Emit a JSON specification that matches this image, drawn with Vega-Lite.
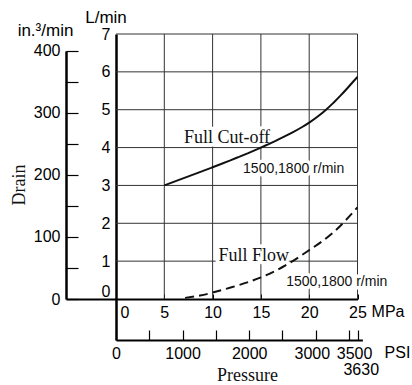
{
  "$schema": "https://vega.github.io/schema/vega-lite/v6.json",
  "width": 291.5,
  "height": 306,
  "autosize": {"type": "none"},
  "padding": {"left": 66, "top": 34, "right": 54.5, "bottom": 45},
  "background": "white",
  "config": {
    "view": {"stroke": null},
    "axis": {
      "labelFont": "Liberation Sans",
      "titleFont": "Liberation Sans",
      "labelColor": "black",
      "titleColor": "black",
      "tickColor": "black",
      "domainColor": "black",
      "labelFontSize": 16,
      "titleFontSize": 16,
      "titleFontWeight": "normal",
      "grid": false,
      "labelFlush": false,
      "labelOverlap": false
    }
  },
  "datasets": {
    "curves": [
      {"series": "Full Cut-off", "MPa": 5, "L": 3.0},
      {"series": "Full Cut-off", "MPa": 7.5, "L": 3.24},
      {"series": "Full Cut-off", "MPa": 10, "L": 3.48},
      {"series": "Full Cut-off", "MPa": 12.5, "L": 3.73},
      {"series": "Full Cut-off", "MPa": 15, "L": 4.0},
      {"series": "Full Cut-off", "MPa": 17.5, "L": 4.3},
      {"series": "Full Cut-off", "MPa": 20, "L": 4.66},
      {"series": "Full Cut-off", "MPa": 22.5, "L": 5.18},
      {"series": "Full Cut-off", "MPa": 25, "L": 5.87},
      {"series": "Full Flow", "MPa": 7.15, "L": 0.03},
      {"series": "Full Flow", "MPa": 8.7, "L": 0.09},
      {"series": "Full Flow", "MPa": 10, "L": 0.17},
      {"series": "Full Flow", "MPa": 12.5, "L": 0.35},
      {"series": "Full Flow", "MPa": 15, "L": 0.57},
      {"series": "Full Flow", "MPa": 17.5, "L": 0.88},
      {"series": "Full Flow", "MPa": 20, "L": 1.29},
      {"series": "Full Flow", "MPa": 22.5, "L": 1.76},
      {"series": "Full Flow", "MPa": 25, "L": 2.42}
    ],
    "hgrid": [{"L": 1}, {"L": 2}, {"L": 3}, {"L": 4}, {"L": 5}, {"L": 6}, {"L": 7}],
    "vgrid": [{"MPa": 5}, {"MPa": 10}, {"MPa": 15}, {"MPa": 20}, {"MPa": 25}],
    "serifNotes": [
      {"text": "Full Cut-off", "MPa": 11.49, "L": 4.12},
      {"text": "Full Flow", "MPa": 14.27, "L": 1.01},
      {"text": "Pressure", "MPa": 13.61, "L": -2.17}
    ],
    "sansNotes": [
      {"text": "1500,1800 r/min", "MPa": 18.39, "L": 3.32},
      {"text": "1500,1800 r/min", "MPa": 22.85, "L": 0.34}
    ],
    "drain": [{"text": "Drain", "MPa": -9.42, "L": 3.01}],
    "in3": [{"in3": 0}, {"in3": 400}],
    "psi": [{"PSI": 0}, {"PSI": 3630}]
  },
  "layer": [
    {
      "layer": [
        {
          "data": {"name": "hgrid"},
          "mark": {"type": "rule", "color": "#333", "strokeWidth": 1},
          "encoding": {
            "y": {"field": "L", "type": "quantitative", "scale": {"domain": [-1.083, 7], "nice": false, "zero": false}},
            "x": {"datum": 0, "type": "quantitative", "scale": {"domain": [-5.176, 25], "nice": false, "zero": false}},
            "x2": {"datum": 25}
          }
        },
        {
          "data": {"name": "vgrid"},
          "mark": {"type": "rule", "color": "#333", "strokeWidth": 1},
          "encoding": {
            "x": {"field": "MPa", "type": "quantitative"},
            "y": {"datum": 0, "type": "quantitative"},
            "y2": {"datum": 7}
          }
        },
        {
          "data": {"name": "serifNotes"},
          "mark": {"type": "text", "font": "Liberation Serif", "fontSize": 18, "align": "center", "baseline": "alphabetic", "stroke": "white", "strokeWidth": 7, "strokeJoin": "round", "fill": "white"},
          "encoding": {
            "x": {"field": "MPa", "type": "quantitative"},
            "y": {"field": "L", "type": "quantitative"},
            "text": {"field": "text"}
          }
        },
        {
          "data": {"name": "sansNotes"},
          "mark": {"type": "text", "font": "Liberation Sans", "fontSize": 14, "align": "center", "baseline": "alphabetic", "stroke": "white", "strokeWidth": 7, "strokeJoin": "round", "fill": "white"},
          "encoding": {
            "x": {"field": "MPa", "type": "quantitative"},
            "y": {"field": "L", "type": "quantitative"},
            "text": {"field": "text"}
          }
        },
        {
          "data": {"name": "curves"},
          "mark": {"type": "line", "color": "#111", "strokeWidth": 2, "interpolate": "natural"},
          "encoding": {
            "x": {
              "field": "MPa", "type": "quantitative",
              "axis": {
                "orient": "bottom",
                "offset": -41,
                "values": [0, 2.5, 5, 7.5, 10, 12.5, 15, 17.5, 20, 22.5, 25],
                "labelExpr": "datum.value % 5 == 0 ? '' + datum.value : ''",
                "tickSize": -5,
                "tickWidth": 1,
                "domainWidth": 2.2,
                "labelPadding": 10,
                "labelAlign": {"condition": {"test": "datum.value == 0", "value": "left"}, "value": "center"},
                "labelOffset": {"condition": {"test": "datum.value == 0", "value": 4}, "value": 0},
                "title": "MPa",
                "titleX": 321.5,
                "titleY": 12,
                "titleAlign": "center",
                "titleBaseline": "middle",
                "titleAngle": 0
              }
            },
            "y": {
              "field": "L", "type": "quantitative",
              "axis": {
                "orient": "left",
                "offset": -50,
                "values": [0, 1, 2, 3, 4, 5, 6, 7],
                "tickSize": 0,
                "labelPadding": 6,
                "domainWidth": 2.5,
                "labelBaseline": {"condition": {"test": "datum.value == 0", "value": "bottom"}, "value": "middle"},
                "title": "L/min",
                "titleFontSize": 17,
                "titleAngle": 0,
                "titleX": -10.5,
                "titleY": -11.3,
                "titleAlign": "center",
                "titleBaseline": "alphabetic"
              }
            },
            "detail": {"field": "series"},
            "strokeDash": {"field": "series", "type": "nominal", "scale": {"domain": ["Full Cut-off", "Full Flow"], "range": [[10, 0], [9, 5]]}, "legend": null}
          }
        },
        {
          "data": {"name": "serifNotes"},
          "mark": {"type": "text", "font": "Liberation Serif", "fontSize": 18, "align": "center", "baseline": "alphabetic", "color": "#111"},
          "encoding": {
            "x": {"field": "MPa", "type": "quantitative"},
            "y": {"field": "L", "type": "quantitative"},
            "text": {"field": "text"}
          }
        },
        {
          "data": {"name": "sansNotes"},
          "mark": {"type": "text", "font": "Liberation Sans", "fontSize": 14, "align": "center", "baseline": "alphabetic", "color": "#111"},
          "encoding": {
            "x": {"field": "MPa", "type": "quantitative"},
            "y": {"field": "L", "type": "quantitative"},
            "text": {"field": "text"}
          }
        },
        {
          "data": {"name": "drain"},
          "mark": {"type": "text", "font": "Liberation Serif", "fontSize": 18, "align": "center", "baseline": "alphabetic", "angle": 270, "color": "#111"},
          "encoding": {
            "x": {"field": "MPa", "type": "quantitative"},
            "y": {"field": "L", "type": "quantitative"},
            "text": {"field": "text"}
          }
        }
      ]
    },
    {
      "data": {"name": "in3"},
      "mark": {"type": "point", "opacity": 0},
      "encoding": {
        "y": {
          "field": "in3", "type": "quantitative",
          "scale": {"domain": [0, 400], "range": [265, 16.86], "nice": false, "zero": false},
          "axis": {
            "orient": "left",
            "offset": 0,
            "values": [0, 50, 100, 150, 200, 250, 300, 350, 400],
            "labelExpr": "datum.value % 100 == 0 ? '' + datum.value : ''",
            "tickSize": -12,
            "tickWidth": 1.2,
            "labelPadding": 18,
            "domainWidth": 2.5,
            "title": "in.³/min",
            "titleFontSize": 17,
            "titleAngle": 0,
            "titleX": -21,
            "titleY": 1,
            "titleAlign": "center",
            "titleBaseline": "alphabetic"
          }
        }
      }
    },
    {
      "data": {"name": "psi"},
      "mark": {"type": "point", "opacity": 0},
      "encoding": {
        "x": {
          "field": "PSI", "type": "quantitative",
          "scale": {"domain": [0, 3700], "range": [50, 296.4], "nice": false, "zero": false},
          "axis": {
            "orient": "bottom",
            "offset": 0,
            "values": [0, 500, 1000, 1500, 2000, 2500, 3000, 3500, 3630],
            "labelExpr": "indexof([0, 1000, 2000, 3000, 3500, 3630], datum.value) >= 0 ? '' + datum.value : ''",
            "tickSize": -10,
            "tickWidth": 1.2,
            "domainWidth": 2,
            "labelPadding": {"condition": {"test": "datum.value == 3630", "value": 31}, "value": 15},
            "labelOffset": {"condition": [{"test": "datum.value == 3000", "value": -4}, {"test": "datum.value == 3500", "value": 5}, {"test": "datum.value == 3630", "value": 3}], "value": 0},
            "title": "PSI",
            "titleX": 331,
            "titleY": 12,
            "titleAngle": 0,
            "titleAlign": "center",
            "titleBaseline": "middle"
          }
        }
      }
    }
  ],
  "resolve": {"scale": {"x": "independent", "y": "independent"}}
}
